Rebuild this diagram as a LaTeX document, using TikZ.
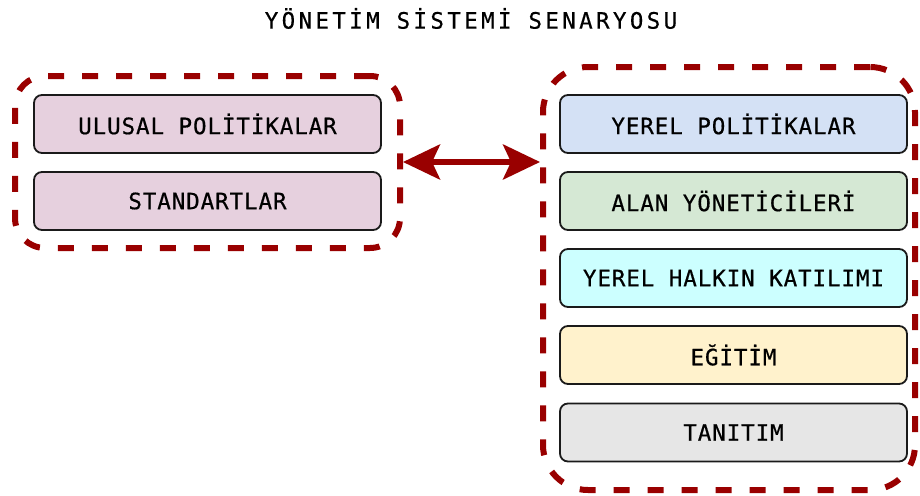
\documentclass[tikz,border=0pt]{standalone}
\usepackage{fontspec}
\usetikzlibrary{arrows.meta}
\newfontfamily\titlefont{DejaVu Sans Mono}[LetterSpace=14.9,FakeBold=0.5]
\newfontfamily\boxfont{DejaVu Sans Mono}[LetterSpace=4.1,FakeBold=0.6]
\definecolor{dred}{HTML}{990000}
\definecolor{edge}{HTML}{1A1A1A}
\definecolor{cpink}{HTML}{E6D0DE}
\definecolor{cblue}{HTML}{D4E1F5}
\definecolor{cgreen}{HTML}{D5E8D4}
\definecolor{ccyan}{HTML}{CCFFFF}
\definecolor{cyellow}{HTML}{FFF2CC}
\definecolor{cgray}{HTML}{E6E6E6}
\begin{document}
\begin{tikzpicture}[x=1pt,y=-1pt,
  itembox/.style={draw=edge, line width=1.8pt, rounded corners=8pt,
    minimum width=347pt, minimum height=58pt, inner sep=0pt,
    font=\boxfont\fontsize{22.5}{26}\selectfont},
  groupbox/.style={draw=dred, line width=6pt, dash pattern=on 16pt off 18pt,
    inner sep=0pt},
  bigarrow/.style={draw=dred, line width=5.5pt,
    {Stealth[length=37pt,width=35pt,inset=8pt]}-{Stealth[length=37pt,width=35pt,inset=8pt]}}
]
\useasboundingbox (0,0) rectangle (920,495);
\node[font=\titlefont\fontsize{22.5}{26}\selectfont] (title) at (471,18.5) {YÖNETİM SİSTEMİ SENARYOSU};

\node[groupbox, rounded corners=30pt, minimum width=385pt, minimum height=172pt] (lc) at (207.5,162) {};
\node[groupbox, rounded corners=45pt, minimum width=372pt, minimum height=423pt] (rc) at (729,278.5) {};

\node[itembox, fill=cpink] (ulusal) at (207.5,124) {ULUSAL POLİTİKALAR};
\node[itembox, fill=cpink] (standart) at (207.5,201) {STANDARTLAR};

\node[itembox, fill=cblue] (yerel) at (733.5,124) {YEREL POLİTİKALAR};
\node[itembox, fill=cgreen] (alan) at (733.5,201) {ALAN YÖNETİCİLERİ};
\node[itembox, fill=ccyan] (halk) at (733.5,278) {YEREL HALKIN KATILIMI};
\node[itembox, fill=cyellow] (egitim) at (733.5,355) {EĞİTİM};
\node[itembox, fill=cgray] (tanitim) at (733.5,432.5) {TANITIM};

\draw[bigarrow] (lc.east) -- (lc.east -| rc.west);
\end{tikzpicture}
\end{document}
